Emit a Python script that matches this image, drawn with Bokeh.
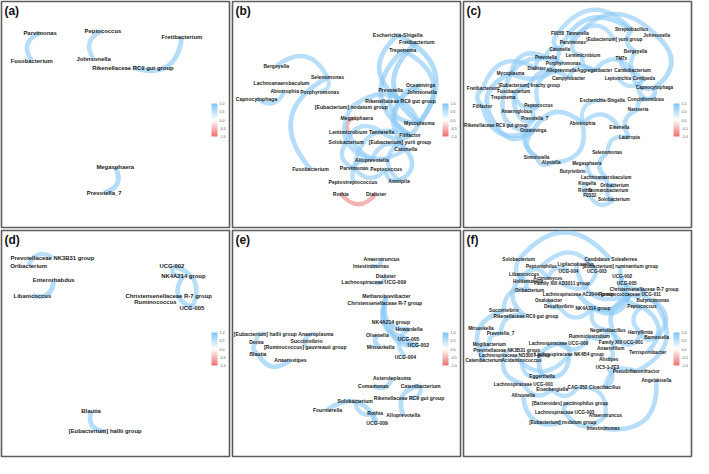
import numpy as np
from bokeh.plotting import figure
from bokeh.layouts import gridplot
from bokeh.models import (ColumnDataSource, Range1d, LinearColorMapper, ColorBar,
                          FixedTicker, PrintfTickFormatter, Label)
from bokeh.core.properties import value
from bokeh.transform import linear_cmap
from bokeh.embed import file_html
from bokeh.resources import INLINE

# ---------------- data: node layout (panel units) and correlation edges ----------------
a_names = ["Parvimonas", "Fusobacterium", "Peptococcus", "Johnsonella", "Fretibacterium",
           "Rikenellaceae RC9 gut group", "Megasphaera", "Prevotella_7"]
a_x = [40, 31.3, 105, 95.3, 186.7, 136, 117.7, 106.3]
a_y = [32.7, 62, 30.7, 60.3, 37, 69, 173, 199.7]
a_src = ["Parvimonas", "Peptococcus", "Rikenellaceae RC9 gut group", "Prevotella_7"]
a_tgt = ["Fusobacterium", "Johnsonella", "Fretibacterium", "Megasphaera"]
a_r = [0.78, 0.74, 0.80, 0.82]

b_names = ["Escherichia-Shigella", "Fretibacterium", "Treponema", "Bergeyella", "Selenomonas",
           "Lachnoanaerobaculum", "Abiotrophia", "Porphyromonas", "Capnocytophaga", "Oceanivirga",
           "Prevotella", "Johnsonella", "Rikenellaceae RC9 gut group", "[Eubacterium] nodatum group",
           "Megasphaera", "Mycoplasma", "Lentimicrobium", "Tannerella", "Filifactor", "Solobacterium",
           "[Eubacterium] yurii group", "Catonella", "Alloprevotella", "Fusobacterium", "Parvimonas",
           "Peptococcus", "Amnipila", "Peptostreptococcus", "Rothia", "Dialister"]
b_x = [171, 190.7, 176.3, 45.3, 98.3, 50.7, 54, 90.3, 24.7, 194.7, 163.7, 196, 174, 123,
       128.7, 193.3, 119.7, 154.3, 183.7, 117.7, 173.3, 179.3, 144.3, 80.7, 126, 159, 172.3,
       124.7, 112, 148.7]
b_y = [35, 42.7, 51, 67.3, 79.3, 85.3, 93.3, 94.3, 101.3, 87, 92, 94, 103.7, 110.3, 121.3,
       127, 136.3, 136.3, 139.3, 147, 147, 154.3, 165, 175, 174, 175, 187, 188, 200.7, 200.7]
b_src = ["Selenomonas", "Capnocytophaga", "Porphyromonas", "Selenomonas", "Rothia", "Megasphaera",
         "Mycoplasma", "Escherichia-Shigella", "Fretibacterium", "Treponema", "Mycoplasma",
         "Oceanivirga", "Prevotella", "Johnsonella", "Rikenellaceae RC9 gut group", "Mycoplasma",
         "[Eubacterium] nodatum group", "Tannerella", "Lentimicrobium", "Filifactor",
         "Alloprevotella", "Solobacterium", "Parvimonas", "Peptococcus",
         "[Eubacterium] yurii group", "Amnipila", "Catonella", "Tannerella"]
b_tgt = ["Bergeyella", "Abiotrophia", "Selenomonas", "Fusobacterium", "Dialister", "Lentimicrobium",
         "Escherichia-Shigella", "Rikenellaceae RC9 gut group", "Mycoplasma", "Filifactor",
         "Treponema", "Catonella", "Mycoplasma", "Rikenellaceae RC9 gut group", "Filifactor",
         "[Eubacterium] nodatum group", "Alloprevotella", "Solobacterium", "Catonella",
         "Parvimonas", "Peptostreptococcus", "Parvimonas", "Peptococcus", "Amnipila", "Amnipila",
         "Catonella", "Alloprevotella", "Mycoplasma"]
b_r = [0.74, 0.72, 0.70, 0.80, -0.72, -0.68, 0.82, 0.80, 0.84, 0.80, 0.78, 0.75, 0.80, 0.72,
       0.76, 0.78, 0.74, 0.72, 0.74, 0.73, 0.72, 0.75, 0.76, 0.74, 0.73, 0.78, 0.74, 0.76]

c_names = ["F0058", "Tannerella", "Streptobacillus", "Johnsonella", "Parvimonas",
           "[Eubacterium] yurii group", "Catonella", "Lentimicrobium", "Bergeyella", "Prevotella",
           "TM7x", "Porphyromonas", "Dialister", "Alloprevotella", "Aggregatibacter",
           "Cardiobacterium", "Mycoplasma", "Campylobacter", "Leptotrichia", "Centipeda",
           "[Eubacterium] brachy group", "Capnocytophaga", "Fretibacterium", "Fusobacterium",
           "Treponema", "Escherichia-Shigella", "Conchiformibius", "Filifactor", "Peptococcus",
           "Neisseria", "Anaeroglobus", "Prevotella_7", "Rikenellaceae RC9 gut group",
           "Abiotrophia", "Oceanivirga", "Eikenella", "Lautropia", "Selenomonas", "Simonsiella",
           "Alysiella", "Megasphaera", "Butyrivibrio", "Lachnoanaerobaculum", "Kingella",
           "Oribacterium", "Rothia", "Stomatobacterium", "F0332", "Solobacterium"]
c_x = [97.3, 118, 174, 200, 113, 156, 99.7, 123.7, 178, 85.3, 163.3, 103.3, 75.7, 101.3,
       135.7, 175, 48.7, 108.7, 159.7, 186.7, 68, 197.7, 20, 52, 41, 143.7, 188.7, 19.7, 77.7,
       180.7, 55, 73.7, 33.5, 123, 72, 161.3, 171.7, 148.7, 75.7, 90.7, 127.7, 113, 147.7, 128,
       156.3, 126, 149.7, 130.7, 155.7]
c_y = [33.7, 33.7, 29.7, 35.7, 42.7, 39.7, 50.3, 56.3, 52.3, 58.3, 59.3, 64.3, 70.3, 72, 72,
       72, 75.3, 80, 80, 80.7, 87.3, 90.3, 90.7, 93.7, 100, 103.3, 102, 109.3, 108.7, 112.7,
       115, 122.3, 129, 127, 134.7, 132, 142.3, 158, 162.7, 168.3, 169, 177, 184, 189.7, 192,
       197.3, 197.7, 203, 206.7]
c_src = ["Streptobacillus", "Streptobacillus", "Johnsonella", "Capnocytophaga", "Streptobacillus",
         "Bergeyella", "TM7x", "Cardiobacterium", "Centipeda", "Leptotrichia", "Conchiformibius",
         "Conchiformibius", "Neisseria", "Eikenella", "Abiotrophia", "Alysiella", "Lautropia",
         "Selenomonas", "Megasphaera", "Lachnoanaerobaculum", "Kingella", "Oribacterium",
         "Stomatobacterium", "Rothia", "F0332", "Simonsiella", "Oceanivirga", "Prevotella_7",
         "Mycoplasma", "Fretibacterium", "Treponema", "Filifactor", "Prevotella", "Dialister",
         "Catonella", "Prevotella", "Porphyromonas", "Alloprevotella", "Lentimicrobium",
         "Aggregatibacter", "Campylobacter", "[Eubacterium] brachy group", "Fusobacterium",
         "Peptococcus", "Anaeroglobus", "Rikenellaceae RC9 gut group", "Tannerella", "Parvimonas",
         "F0058", "[Eubacterium] yurii group", "Cardiobacterium", "Mycoplasma",
         "Escherichia-Shigella"]
c_tgt = ["Catonella", "F0058", "Parvimonas", "Johnsonella", "Bergeyella", "Centipeda",
         "Cardiobacterium", "Capnocytophaga", "Conchiformibius", "Centipeda", "Capnocytophaga",
         "Neisseria", "Lautropia", "Abiotrophia", "Oceanivirga", "Abiotrophia", "Selenomonas",
         "Lachnoanaerobaculum", "Lachnoanaerobaculum", "Oribacterium", "Rothia", "Stomatobacterium",
         "Solobacterium", "F0332", "Solobacterium", "Alysiella", "Simonsiella", "Simonsiella",
         "Rikenellaceae RC9 gut group", "Filifactor", "Oceanivirga", "Oceanivirga", "Mycoplasma",
         "Fretibacterium", "Prevotella", "Dialister", "Treponema", "Peptococcus", "Aggregatibacter",
         "Campylobacter", "[Eubacterium] brachy group", "Anaeroglobus", "Peptococcus",
         "Prevotella_7", "Prevotella_7", "Oceanivirga", "Parvimonas", "Lentimicrobium", "Catonella",
         "Tannerella", "Aggregatibacter", "Catonella", "Abiotrophia"]
c_r = [0.78, 0.74, 0.76, 0.80, 0.78, 0.74, 0.72, 0.76, 0.74, 0.70, 0.78, 0.72, 0.76, 0.74,
       0.78, 0.76, 0.72, 0.78, 0.74, 0.76, 0.72, 0.74, 0.76, 0.72, 0.74, 0.76, 0.80, 0.74,
       0.80, 0.78, 0.76, 0.78, 0.76, 0.74, 0.72, 0.74, 0.76, 0.74, 0.72, 0.74, 0.76, 0.78,
       0.74, 0.76, 0.74, 0.78, 0.72, 0.74, 0.74, 0.72, 0.74, 0.76, 0.70]

d_names = ["Prevotellaceae NK3B31 group", "Oribacterium", "Enterorhabdus", "Libanicoccus",
           "UCG-002", "NK4A214 group", "Christensenellaceae R-7 group", "Ruminococcus", "UCG-005",
           "Blautia", "[Eubacterium] hallii group"]
d_x = [52.7, 28, 54, 32, 176.3, 188.3, 173, 159.3, 197, 92.7, 107.3]
d_y = [28.3, 36.7, 52, 68, 37, 47.3, 68, 74.7, 80.7, 189, 209.7]
d_src = ["Prevotellaceae NK3B31 group", "Libanicoccus", "NK4A214 group", "UCG-005", "UCG-002",
         "Blautia"]
d_tgt = ["Oribacterium", "Enterorhabdus", "UCG-005", "UCG-002", "NK4A214 group",
         "[Eubacterium] hallii group"]
d_r = [0.74, 0.82, 0.80, 0.76, 0.74, 0.80]

e_names = ["Anaerotruncus", "Intestinimonas", "Dialister", "Lachnospiraceae UCG-009",
           "Methanobrevibacter", "Christensenellaceae R-7 group", "NK4A214 group", "Howardella",
           "Olsenella", "UCG-005", "UCG-002", "Mitsuokella", "UCG-004", "[Eubacterium] hallii group",
           "Anaeroplasma", "Dorea", "Succinivibrio", "[Ruminococcus] gauvreauii group", "Blautia",
           "Anaerostipes", "Asteroleplasma", "Comamonas", "Catenibacterium",
           "Rikenellaceae RC9 gut group", "Solobacterium", "Fournierella", "Rothia", "Alloprevotella",
           "UCG-009"]
e_x = [154.3, 143.3, 158.7, 146.3, 159.3, 157.7, 164, 182.7, 150, 182.3, 192.3, 153.3, 179, 34,
       86.3, 24.7, 76.7, 75.3, 26.3, 60, 165, 145.7, 194.7, 182.7, 127, 98.3, 147.7, 176.7, 149.7]
e_y = [29.3, 37, 47, 54, 68.7, 76, 95.7, 103, 108.7, 113.3, 119.3, 122, 132, 107.7, 107.7, 116,
       115, 122, 129, 135, 154, 162, 162, 175, 177.7, 187.3, 191, 193, 201]
e_src = ["Intestinimonas", "Lachnospiraceae UCG-009", "Methanobrevibacter",
         "Christensenellaceae R-7 group", "Methanobrevibacter", "NK4A214 group", "Howardella",
         "Olsenella", "UCG-005", "Dorea", "Blautia", "Anaeroplasma", "[Eubacterium] hallii group",
         "Comamonas", "Catenibacterium", "Rikenellaceae RC9 gut group", "UCG-009", "Solobacterium",
         "Rothia"]
e_tgt = ["Anaerotruncus", "Dialister", "UCG-002", "Howardella", "UCG-005", "UCG-002", "UCG-004",
         "Mitsuokella", "UCG-002", "Blautia", "Anaerostipes", "[Ruminococcus] gauvreauii group",
         "Dorea", "Asteroleplasma", "Alloprevotella", "Catenibacterium", "Fournierella", "Rothia",
         "UCG-009"]
e_r = [0.72, 0.70, 0.80, 0.78, 0.76, 0.74, 0.72, 0.80, 0.70, 0.76, 0.80, 0.72, 0.70, 0.76,
       0.80, 0.72, 0.78, 0.74, 0.72]

f_names = ["Solobacterium", "Candidatus Soleaferrea", "Ligilactobacillus", "Peptoniphilus",
           "[Eubacterium] ruminantium group", "UCG-004", "UCG-003", "Libanicoccus", "UCG-002",
           "Actinomyces", "Holdemanella", "Family XIII AD3011 group", "UCG-005",
           "Christensenellaceae R-7 group", "Oribacterium", "Lachnospiraceae AC2044 group",
           "Ruminococcaceae UCG-011", "Butyricimonas", "Oxalobacter", "Peptococcus", "Desulfovibrio",
           "NK4A214 group", "Succinivibrio", "Rikenellaceae RC9 gut group", "Mitsuokella",
           "Negativibacillus", "Prevotella_7", "Harryflintia", "Ruminiclostridium", "Barnesiella",
           "Family XIII UCG-001", "Lachnospiraceae UCG-009", "Mogibacterium", "Anaerofilum",
           "Prevotellaceae NK3B31 group", "Terrisporobacter", "Lachnospiraceae NK4B4 group",
           "Lachnospiraceae ND3007 group", "Alistipes", "Catenibacterium", "Acidaminococcus",
           "UC5-1-2E3", "Pseudoflavonifractor", "Eggerthella", "Angelakisella",
           "Lachnospiraceae UCG-001", "CAG-352", "Cloacibacillus", "Eisenbergiella", "Allisonella",
           "[Bacteroides] pectinophilus group", "Lachnospiraceae UCG-003", "Anaerotruncus",
           "[Eubacterium] nodatum group", "Intestinimonas"]
f_x = [57, 152.3, 116.3, 80.7, 162.3, 108.7, 138, 62.7, 164.3, 87.3, 67, 102, 169, 187, 68.3,
       119, 172.3, 196, 88, 184.7, 98.7, 134, 41.7, 64.7, 18, 149.3, 38.3, 183, 130.3, 200, 163,
       98.3, 26.7, 152.3, 44.7, 190.7, 109.3, 53, 150.3, 21, 60, 149, 178.7, 81.3, 199.7, 62, 118,
       146.3, 91.7, 61.7, 110.3, 104.7, 147, 102.7, 144.7]
f_y = [30.7, 30.3, 35, 37.3, 37.3, 42.3, 43.3, 46, 48.3, 50, 53, 55.3, 55.3, 61.3, 62.3, 67.3,
       67, 72.7, 72.7, 79.7, 79.7, 81, 83.7, 89.7, 102, 104, 108, 106.3, 110.3, 111.3, 117.3, 118,
       119.3, 123.3, 125, 127, 130, 130.7, 134.7, 136, 136, 143.3, 147, 152, 156.7, 160.3, 164,
       164, 166, 172.3, 180.3, 189.7, 193.7, 200.3, 206.7]
f_src = ["Candidatus Soleaferrea", "UCG-003", "Ligilactobacillus", "[Eubacterium] ruminantium group",
         "UCG-002", "UCG-005", "Christensenellaceae R-7 group", "Lachnospiraceae AC2044 group",
         "Family XIII AD3011 group", "Actinomyces", "Holdemanella", "Oxalobacter", "Desulfovibrio",
         "NK4A214 group", "Oribacterium", "Succinivibrio", "Rikenellaceae RC9 gut group",
         "Prevotella_7", "Mogibacterium", "Prevotellaceae NK3B31 group", "Acidaminococcus",
         "Lachnospiraceae UCG-009", "Eggerthella", "Lachnospiraceae NK4B4 group",
         "Lachnospiraceae ND3007 group", "Lachnospiraceae UCG-001", "Eisenbergiella", "Allisonella",
         "[Bacteroides] pectinophilus group", "Lachnospiraceae UCG-003", "Intestinimonas",
         "Anaerotruncus", "Cloacibacillus", "Pseudoflavonifractor", "Alistipes", "Anaerofilum",
         "Ruminiclostridium", "Family XIII UCG-001", "Harryflintia", "Terrisporobacter",
         "Barnesiella", "Peptococcus", "Pseudoflavonifractor", "NK4A214 group",
         "Ruminococcaceae UCG-011", "Lachnospiraceae UCG-009", "Solobacterium", "UCG-004",
         "Libanicoccus", "Ruminococcaceae UCG-011"]
f_tgt = ["Solobacterium", "Peptoniphilus", "Ruminococcaceae UCG-011", "Christensenellaceae R-7 group",
         "Ruminococcaceae UCG-011", "Peptococcus", "Butyricimonas", "Ruminococcaceae UCG-011",
         "UCG-003", "Libanicoccus", "Oribacterium", "Desulfovibrio", "NK4A214 group",
         "Ruminococcaceae UCG-011", "Succinivibrio", "Catenibacterium", "Prevotella_7",
         "Mogibacterium", "Catenibacterium", "Lachnospiraceae UCG-001", "Eggerthella", "Eggerthella",
         "Lachnospiraceae NK4B4 group", "Lachnospiraceae UCG-009", "Lachnospiraceae NK4B4 group",
         "Eisenbergiella", "CAG-352", "[Eubacterium] nodatum group", "Lachnospiraceae UCG-003",
         "Anaerotruncus", "Angelakisella", "CAG-352", "UC5-1-2E3", "Cloacibacillus", "Anaerofilum",
         "Negativibacillus", "Negativibacillus", "Harryflintia", "Barnesiella", "Peptococcus",
         "Butyricimonas", "Harryflintia", "Butyricimonas", "Negativibacillus",
         "Family XIII UCG-001", "Ruminiclostridium", "Holdemanella", "Actinomyces",
         "Rikenellaceae RC9 gut group", "Christensenellaceae R-7 group"]
f_r = [0.78, 0.74, 0.76, 0.74, 0.78, 0.80, 0.76, 0.82, 0.72, 0.74, 0.72, 0.74, 0.72, 0.80,
       0.74, 0.78, 0.74, 0.72, 0.74, 0.78, 0.72, 0.80, 0.78, 0.76, 0.72, 0.74, 0.72, 0.78, 0.74,
       0.76, 0.78, 0.72, 0.74, 0.72, 0.72, 0.74, 0.72, 0.76, 0.74, 0.78, 0.76, 0.74, 0.76, 0.72,
       0.76, 0.74, 0.72, 0.72, 0.76, 0.74]

cbar_ticks = [-1.0, -0.5, 0.0, 0.5, 1.0]

# ---------------- styling ----------------
def make_palette(n=256):
    neg = np.array([236, 86, 86]); mid = np.array([255, 255, 255]); pos = np.array([104, 186, 245])
    cols = []
    for t in np.linspace(-1, 1, n):
        c = mid + (pos - mid) * t if t >= 0 else mid + (neg - mid) * (-t)
        cols.append("#%02x%02x%02x" % tuple(int(round(v)) for v in c))
    return cols

PAL = make_palette()
BEND = 0.6
FONT = "Liberation Sans"


def panel(tag, names, xs, ys, src, tgt, r, fsize):
    p = figure(width=231, height=229, x_range=Range1d(0, 236), y_range=Range1d(236, 0),
               x_axis_type=None, y_axis_type=None, output_backend="svg", toolbar_location=None,
               min_border_left=1, min_border_right=2, min_border_top=1, min_border_bottom=2,
               outline_line_color="#5c5c5c", outline_line_width=1.6,
               background_fill_color="white", border_fill_color="white")
    pos = {n: (x, y) for n, x, y in zip(names, xs, ys)}
    x0 = np.array([pos[s][0] for s in src]); y0 = np.array([pos[s][1] for s in src])
    x1 = np.array([pos[t][0] for t in tgt]); y1 = np.array([pos[t][1] for t in tgt])
    dx, dy = x1 - x0, y1 - y0
    es = ColumnDataSource(dict(x0=x0, y0=y0, x1=x1, y1=y1,
                               cx=(x0 + x1) / 2 - BEND * dy, cy=(y0 + y1) / 2 + BEND * dx,
                               r=r, w=[6.0 * abs(v) for v in r]))
    p.quadratic(x0="x0", y0="y0", x1="x1", y1="y1", cx="cx", cy="cy", source=es,
                line_color=linear_cmap("r", PAL, -1, 1), line_width="w", line_alpha=0.62)
    ns = ColumnDataSource(dict(x=xs, y=ys, name=names))
    p.text(x="x", y="y", text="name", source=ns, text_font=value(FONT), text_font_style="bold",
           text_font_size=fsize, text_align="center", text_baseline="middle",
           text_color="#1a1a1a")
    mapper = LinearColorMapper(palette=PAL, low=-1, high=1)
    cb = ColorBar(color_mapper=mapper, location=(210, 91), width=6, height=33, padding=0,
                  margin=0, ticker=FixedTicker(ticks=cbar_ticks),
                  formatter=PrintfTickFormatter(format="%.1f"),
                  major_label_text_font_size="3.6px", major_label_text_color="#555555",
                  major_tick_line_color=None, minor_tick_line_color=None, bar_line_color=None,
                  label_standoff=2, background_fill_alpha=0, border_line_color=None,
                  scale_alpha=0.85)
    p.add_layout(cb)
    p.add_layout(Label(x=3, y=9.5, text=tag, text_font=FONT, text_font_style="bold",
                       text_font_size="12px", text_baseline="middle", text_color="#111111"))
    return p


pa = panel("(a)", a_names, a_x, a_y, a_src, a_tgt, a_r, "5.9px")
pb = panel("(b)", b_names, b_x, b_y, b_src, b_tgt, b_r, "5.1px")
pc = panel("(c)", c_names, c_x, c_y, c_src, c_tgt, c_r, "4.6px")
pd = panel("(d)", d_names, d_x, d_y, d_src, d_tgt, d_r, "5.9px")
pe = panel("(e)", e_names, e_x, e_y, e_src, e_tgt, e_r, "5.1px")
pf = panel("(f)", f_names, f_x, f_y, f_src, f_tgt, f_r, "4.7px")

grid = gridplot([[pa, pb, pc], [pd, pe, pf]], toolbar_location=None)
open("out.html", "w").write(file_html(grid, INLINE))
